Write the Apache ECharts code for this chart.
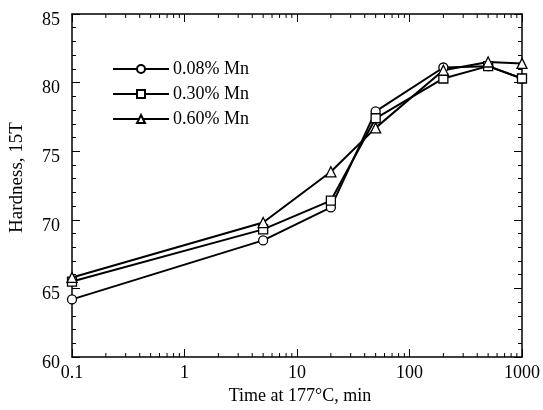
<!DOCTYPE html>
<html>
<head>
<meta charset="utf-8">
<script src="https://cdn.jsdelivr.net/npm/echarts@6/dist/echarts.min.js"></script>
<style>
    html, body { margin: 0; padding: 0; background: #fff; }
    #main { width: 543px; height: 410px; }
</style>
</head>
<body>
<div id="main"></div>
<script>
// time at 177°C, min
const times = [0.1, 5, 20, 50, 200, 500, 1000];
// hardness, 15T
const mn008 = [64.2, 68.5, 70.9, 77.9, 81.1, 81.2, 80.3];
const mn030 = [65.5, 69.3, 71.4, 77.4, 80.3, 81.2, 80.3];
const mn060 = [65.8, 69.8, 73.5, 76.7, 80.9, 81.5, 81.4];
const names = ['0.08% Mn', '0.30% Mn', '0.60% Mn'];
// minor ticks of the log axis
const minorX = [];
[0.1, 1, 10, 100].forEach(d => {
    for (let k = 2; k <= 9; k++) minorX.push(+(d * k).toPrecision(3));
});

const font = 'Liberation Serif';
const yMin = 60, yMax = 85;

const chart = echarts.init(document.getElementById('main'));

const pair = (arr) => times.map((t, i) => [t, arr[i]]);

const lineSeries = (name, symbol, size, data) => ({
    name: name,
    type: 'line',
    data: pair(data),
    symbol: symbol,
    symbolSize: size,
    showAllSymbol: true,
    lineStyle: { color: '#000', width: 2 },
    itemStyle: { color: '#fff', borderColor: '#000', borderWidth: 1.3 },
    animation: false,
    z: 3
});

const option = {
    animation: false,
    textStyle: { fontFamily: font, color: '#000' },
    grid: { left: 72, right: 20, top: 14, bottom: 51 },
    legend: {
        data: names,
        orient: 'vertical',
        left: 107,
        top: 55,
        itemWidth: 56,
        itemHeight: 10,
        itemGap: 7,
        textStyle: { fontFamily: font, fontSize: 18, color: '#000', padding: [0, 0, 0, -1] }
    },
    xAxis: [
        {
            type: 'log',
            logBase: 10,
            min: 0.1,
            max: 1000,
            position: 'bottom',
            name: 'Time at 177\u00b0C, min',
            nameLocation: 'middle',
            nameGap: 30,
            nameTextStyle: { fontFamily: font, fontSize: 18, color: '#000', padding: [0, 0, 0, 6] },
            axisLine: { lineStyle: { color: '#000', width: 1.5 } },
            axisTick: { inside: true, length: 8, lineStyle: { color: '#000' } },
            axisLabel: {
                fontFamily: font, fontSize: 18, color: '#000', margin: 7,
                formatter: v => String(v)
            },
            splitLine: { show: false }
        },
        {
            type: 'log',
            logBase: 10,
            min: 0.1,
            max: 1000,
            position: 'top',
            axisLine: { lineStyle: { color: '#000', width: 1.5 } },
            axisTick: { inside: true, length: 8, lineStyle: { color: '#000' } },
            axisLabel: { show: false },
            splitLine: { show: false }
        }
    ],
    yAxis: [
        {
            type: 'value',
            min: yMin,
            max: yMax,
            interval: 5,
            position: 'left',
            name: 'Hardness, 15T',
            nameLocation: 'middle',
            nameGap: 45,
            nameTextStyle: { fontFamily: font, fontSize: 19, color: '#000', padding: [0, 0, 0, 16] },
            axisLine: { show: true, lineStyle: { color: '#000', width: 1.5 } },
            axisTick: { inside: true, length: 8, lineStyle: { color: '#000' } },
            minorTick: { show: true, splitNumber: 5, length: 4, lineStyle: { color: '#000' } },
            axisLabel: {
                fontFamily: font, fontSize: 18, color: '#000', margin: 12,
                verticalAlign: 'top', lineHeight: 12
            },
            splitLine: { show: false }
        },
        {
            type: 'value',
            min: yMin,
            max: yMax,
            interval: 5,
            position: 'right',
            axisLine: { show: true, lineStyle: { color: '#000', width: 1.5 } },
            axisTick: { inside: true, length: 8, lineStyle: { color: '#000' } },
            minorTick: { show: true, splitNumber: 5, length: 4, lineStyle: { color: '#000' } },
            axisLabel: { show: false },
            splitLine: { show: false }
        }
    ],
    series: [
        lineSeries(names[0], 'circle', 9, mn008),
        lineSeries(names[1], 'rect', 9, mn030),
        lineSeries(names[2], 'triangle', 10, mn060),
        {
            // minor ticks of the log axis, bottom and top
            type: 'custom',
            silent: true,
            animation: false,
            data: minorX.map(v => [v]),
            renderItem: function (params, api) {
                const b = api.coord([api.value(0), yMin]);
                const t = api.coord([api.value(0), yMax]);
                const st = { stroke: '#000', lineWidth: 1 };
                return {
                    type: 'group',
                    children: [
                        { type: 'line', shape: { x1: b[0], y1: b[1], x2: b[0], y2: b[1] - 4 }, style: st },
                        { type: 'line', shape: { x1: t[0], y1: t[1], x2: t[0], y2: t[1] + 4 }, style: st }
                    ]
                };
            }
        }
    ]
};

chart.setOption(option);
</script>
</body>
</html>
